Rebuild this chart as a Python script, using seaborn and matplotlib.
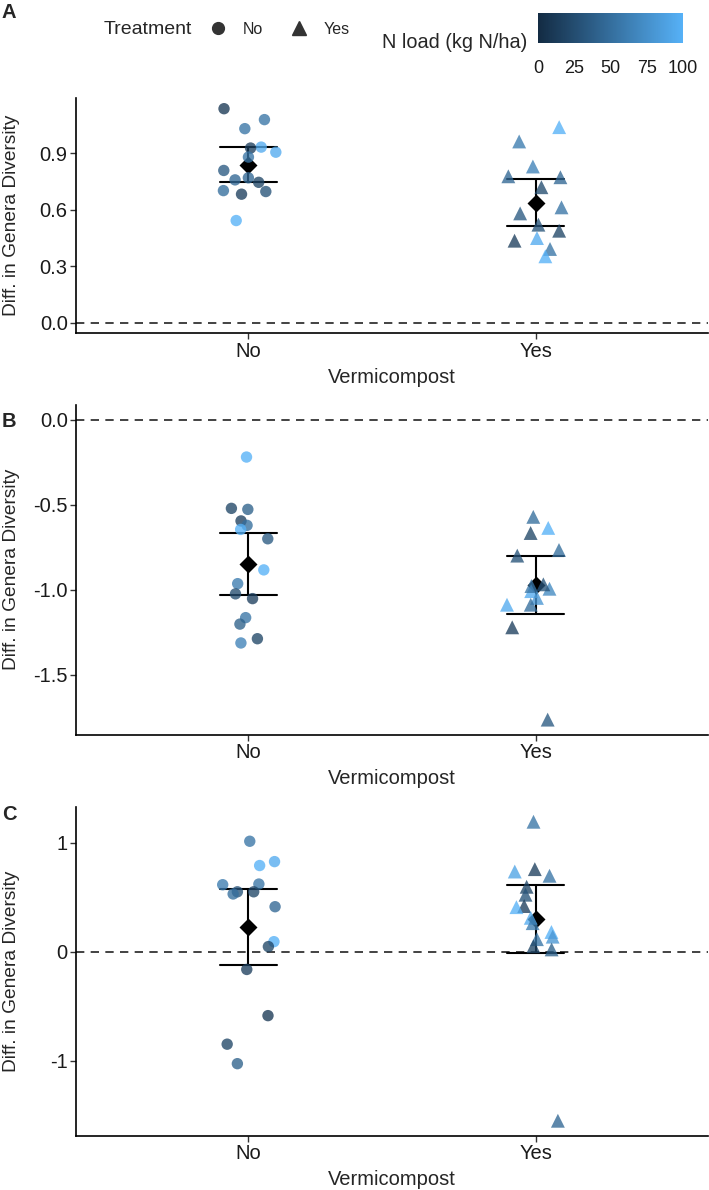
#!/usr/bin/env python3
"""
Difference in genera diversity by vermicompost treatment, three panels
(points coloured by N load, mean with 95% t-interval).
"""

import numpy as np
import pandas as pd
import matplotlib.pyplot as plt
import seaborn as sns
from matplotlib.colors import LinearSegmentedColormap, Normalize
from matplotlib.cm import ScalarMappable
from matplotlib.lines import Line2D
from matplotlib.ticker import FixedLocator, FixedFormatter

# ---- data ----
categories = ["No", "Yes"]

a_no_diff = [1.136, 1.078, 1.03, 0.932, 0.905, 0.927, 0.879, 0.808, 0.758, 0.769, 0.745, 0.696, 0.682, 0.701, 0.542]
a_no_nload = [10, 55, 55, 95, 95, 15, 55, 35, 45, 45, 20, 30, 15, 50, 100]
a_yes_diff = [1.038, 0.962, 0.829, 0.772, 0.777, 0.719, 0.612, 0.58, 0.52, 0.488, 0.435, 0.449, 0.391, 0.352]
a_yes_nload = [100, 60, 65, 45, 45, 25, 55, 35, 30, 20, 15, 95, 55, 100]

b_no_diff = [-0.218, -0.52, -0.526, -0.594, -0.62, -0.644, -0.699, -0.882, -0.963, -1.051, -1.023, -1.163, -1.201, -1.287, -1.312]
b_no_nload = [100, 20, 40, 15, 50, 100, 35, 100, 60, 15, 25, 55, 40, 20, 65]
b_yes_diff = [-0.57, -0.635, -0.665, -0.765, -0.798, -0.993, -1.007, -0.977, -0.967, -1.047, -1.087, -1.087, -1.22, -1.763]
b_yes_nload = [50, 100, 20, 50, 30, 70, 95, 55, 30, 80, 50, 95, 15, 35]

c_no_diff = [1.013, 0.79, 0.826, 0.62, 0.614, 0.549, 0.549, 0.529, 0.412, 0.091, 0.046, -0.164, -0.588, -0.85, -1.029]
c_no_nload = [55, 100, 95, 55, 60, 30, 20, 50, 45, 100, 20, 15, 10, 20, 40]
c_yes_diff = [1.192, 0.696, 0.757, 0.735, 0.595, 0.522, 0.418, 0.408, 0.31, 0.261, 0.18, 0.137, 0.114, 0.049, 0.02, -1.553]
c_yes_nload = [55, 55, 15, 90, 20, 30, 15, 100, 95, 60, 100, 80, 55, 20, 40, 45]

a_yticks = [0.0, 0.3, 0.6, 0.9]
a_ylabels = ["0.0", "0.3", "0.6", "0.9"]
b_yticks = [0.0, -0.5, -1.0, -1.5]
b_ylabels = ["0.0", "-0.5", "-1.0", "-1.5"]
c_yticks = [-1, 0, 1]
c_ylabels = ["-1", "0", "1"]

cbar_ticks = [0, 25, 50, 75, 100]

# two-sided 95% t critical values by degrees of freedom
T_CRIT = {12: 2.179, 13: 2.160, 14: 2.145, 15: 2.131, 16: 2.120}


def t_ci(v):
    v = np.asarray(v, dtype=float)
    n = len(v)
    half = T_CRIT[n - 1] * v.std(ddof=1) / np.sqrt(n)
    return v.mean() - half, v.mean() + half


def make_df(no_diff, no_nload, yes_diff, yes_nload):
    return pd.DataFrame({
        "Vermicompost": ["No"] * len(no_diff) + ["Yes"] * len(yes_diff),
        "diff": no_diff + yes_diff,
        "nload": no_nload + yes_nload,
    })


panels = [
    ("A", make_df(a_no_diff, a_no_nload, a_yes_diff, a_yes_nload), a_yticks, a_ylabels),
    ("B", make_df(b_no_diff, b_no_nload, b_yes_diff, b_yes_nload), b_yticks, b_ylabels),
    ("C", make_df(c_no_diff, c_no_nload, c_yes_diff, c_yes_nload), c_yticks, c_ylabels),
]

sns.set_theme(style="ticks")
plt.rcParams["font.family"] = ["Liberation Sans", "DejaVu Sans"]
plt.rcParams["axes.unicode_minus"] = False

cmap = LinearSegmentedColormap.from_list("gg", ["#132B43", "#56B1F7"])
norm = Normalize(0, 100)
np.random.seed(7)

W, H = 709, 1190
fig = plt.figure(figsize=(W / 100, H / 100), dpi=100)

# axes boxes in pixels: (top, bottom)
boxes = [(98, 333.3), (405, 734.6), (806.8, 1135.7)]
left_px, right_px = 76, 708
letter_y = [13, 421, 815]

for (letter, df, yt, yl), (top, bot), ly in zip(panels, boxes, letter_y):
    ax = fig.add_axes([left_px / W, 1 - bot / H, (right_px - left_px) / W, (bot - top) / H])
    ax.axhline(0, color="#222222", lw=1.2, dashes=(5, 3.8), zorder=0)
    for cat, mk, sz in [("No", "o", 8.2), ("Yes", "^", 10)]:
        sns.stripplot(data=df[df["Vermicompost"] == cat], x="Vermicompost", y="diff",
                      order=categories, hue="nload", palette=cmap, hue_norm=(0, 100),
                      marker=mk, size=sz, jitter=0.1, alpha=0.78, linewidth=0,
                      legend=False, ax=ax)
    sns.pointplot(data=df, x="Vermicompost", y="diff", order=categories,
                  errorbar=t_ci, capsize=0.2, color="black", markers="D",
                  linestyle="none", markersize=7.5, err_kws={"linewidth": 1.5}, ax=ax)

    lo = min(df["diff"].min(), 0)
    hi = max(df["diff"].max(), 0)
    pad = 0.05 * (hi - lo)
    ax.set_ylim(lo - pad, hi + pad)
    ax.set_xlim(-0.6, 1.6)
    ax.yaxis.set_major_locator(FixedLocator(yt))
    ax.yaxis.set_major_formatter(FixedFormatter(yl))
    sns.despine(ax=ax)
    for s in ["left", "bottom"]:
        ax.spines[s].set_linewidth(1.2)
        ax.spines[s].set_color("black")
    ax.tick_params(axis="both", labelsize=14.5, length=4, width=1.0,
                   color="#333333", labelcolor="#1a1a1a", pad=2)
    ax.set_xlabel("Vermicompost", fontsize=14.5, labelpad=5)
    ax.set_ylabel("Diff. in Genera Diversity", fontsize=13.8)
    ax.yaxis.set_label_coords((20 - left_px) / (right_px - left_px), 0.5)
    fig.text(9 / W, 1 - ly / H, letter, fontsize=14.5, fontweight="bold",
             ha="center", va="center")

# shape legend
fig.text(104 / W, 1 - 29 / H, "Treatment", fontsize=14, ha="left", va="center")
handles = [Line2D([], [], marker="o", ls="none", color="#333333", markersize=8.5),
           Line2D([], [], marker="^", ls="none", color="#333333", markersize=10)]
fig.legend(handles, categories, ncol=2, loc="center left", frameon=False,
           bbox_to_anchor=(208 / W, 1 - 29 / H), fontsize=11.5, handlelength=1.2,
           handletextpad=1.0, columnspacing=1.6, borderaxespad=0, borderpad=0)

# colour bar for N load
cax = fig.add_axes([538 / W, 1 - 43 / H, (683 - 538) / W, 30 / H])
cb = fig.colorbar(ScalarMappable(norm=norm, cmap=cmap), cax=cax, orientation="horizontal",
                  ticks=cbar_ticks)
cb.outline.set_visible(False)
cax.tick_params(axis="x", direction="in", color="white", length=5, width=0.8,
                top=True, bottom=True, labelsize=13, labelcolor="#1a1a1a", pad=12)
fig.text(527 / W, 1 - 42 / H, "N load (kg N/ha)", fontsize=14.3, ha="right", va="center")

plt.savefig("out.png", dpi=100)
plt.close()
